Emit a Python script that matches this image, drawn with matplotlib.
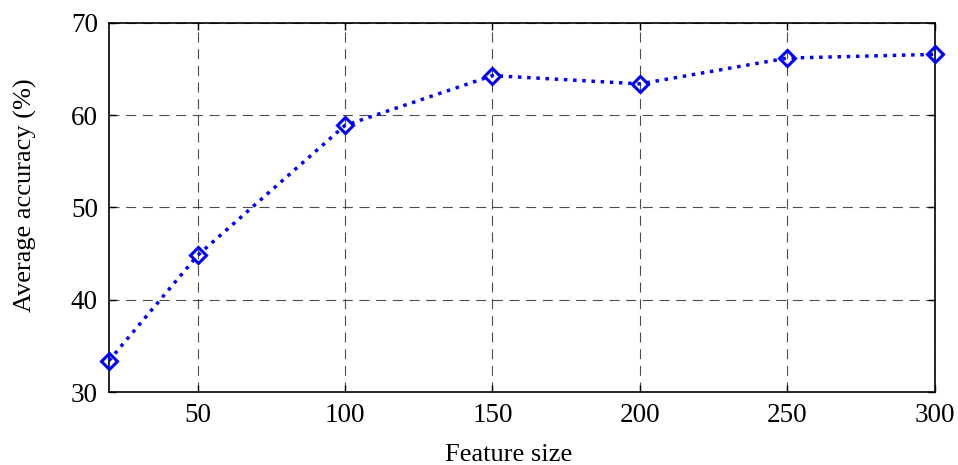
import numpy as np
import matplotlib.pyplot as plt

feature_size = [20, 50, 100, 150, 200, 250, 300]
accuracy = [33.4, 44.8, 58.9, 64.3, 63.4, 66.2, 66.6]
xticks = [50, 100, 150, 200, 250, 300]
yticks = [30, 40, 50, 60, 70]

plt.rcParams['font.family'] = ['Liberation Serif', 'DejaVu Serif']

fig = plt.figure(figsize=(9.58, 4.65), dpi=100)
ax = fig.add_axes([109 / 958, 1 - 392 / 465, (935 - 109) / 958, (392 - 23) / 465])

ax.plot(feature_size, accuracy, color='blue', linestyle=':', linewidth=2.5,
        marker='D', markersize=8.5, markerfacecolor='none', markeredgewidth=2.2,
        markeredgecolor='blue', clip_on=False, zorder=3)

ax.set_xlim(20, 300)
ax.set_ylim(30, 70)
ax.set_xticks(xticks)
ax.set_yticks(yticks)
ax.grid(True, color='black', linestyle=(0, (9, 6)), linewidth=0.8, alpha=0.7)
ax.tick_params(labelsize=19.5, direction='in', length=5, width=1, pad=8, top=True, right=True)
for s in ax.spines.values():
    s.set_linewidth(1.2)

ax.set_xlabel('Feature size', fontsize=19)
ax.set_ylabel('Average accuracy (%)', fontsize=19)
ax.xaxis.set_label_coords(0.484, -0.141)
ax.yaxis.set_label_coords(-0.087, 0.534)

fig.savefig('out.png', dpi=100)
